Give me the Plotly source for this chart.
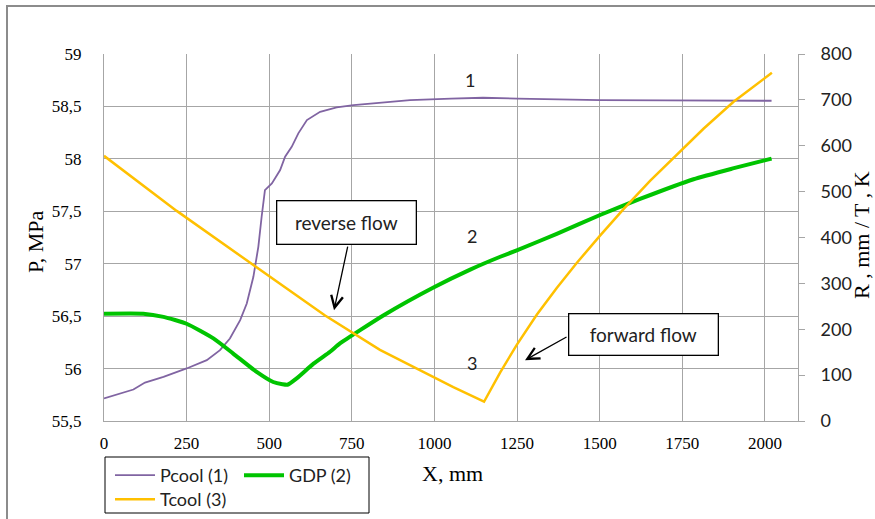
import plotly.graph_objects as go

# ---------------- data ----------------
x_pcool = [0, 89, 124, 180, 250, 311, 351, 381, 412, 432, 452, 467, 477, 487, 508, 533,
           548, 568, 588, 614, 654, 704, 755, 825, 926, 1050, 1147, 1250, 1400, 1501,
           1700, 1900, 2020]
p_cool = [55.715, 55.80, 55.867, 55.921, 56.001, 56.080, 56.176, 56.287, 56.462, 56.621,
          56.875, 57.161, 57.448, 57.702, 57.766, 57.893, 58.02, 58.115, 58.243, 58.370,
          58.449, 58.491, 58.513, 58.535, 58.56, 58.575, 58.583, 58.575, 58.565, 58.561,
          58.557, 58.555, 58.554]

x_gdp = [0, 119, 180, 250, 331, 391, 462, 512, 540, 555, 583, 634, 684, 714, 845, 997,
         1108, 1199, 1249, 1370, 1501, 1622, 1784, 1900, 2020]
r_gdp = [234, 234, 227, 212, 180, 147, 107, 85, 80, 79, 93, 125, 151, 169, 230, 291,
         330, 358, 372, 408, 449, 484, 527, 550, 572]

x_tcool = [0, 220, 452, 669, 835, 957, 1057, 1150, 1199, 1249, 1310, 1370, 1431, 1501,
           1572, 1653, 1754, 1814, 1905, 2021]
t_cool = [578, 458, 340, 230, 155, 110, 74, 42, 106, 166, 232, 290, 345, 404, 462, 524,
          596, 637, 696, 759]

series_names = ["Pcool (1)", "GDP (2)", "Tcool (3)"]

x_tickvals = [0, 250, 500, 750, 1000, 1250, 1500, 1750, 2000]
left_tickvals = [55.5, 56, 56.5, 57, 57.5, 58, 58.5, 59]
left_ticktext = ["55,5", "56", "56,5", "57", "57,5", "58", "58,5", "59"]
right_tickvals = [0, 100, 200, 300, 400, 500, 600, 700, 800]

# ---------------- layout geometry ----------------
W, H = 875, 519
ML, MR, MT, MB = 104, 77, 54, 98
PW = W - ML - MR
PH = H - MT - MB


def px(xp):
    return (xp - ML) / PW


def py(yp):
    return (H - MB - yp) / PH


SERIF = "Liberation Serif"
SANS = "Lato"
GRID = "#a6a6a6"

fig = go.Figure()
fig.add_trace(go.Scatter(x=x_pcool, y=p_cool, name=series_names[0], mode="lines",
                         line=dict(color="#8064A2", width=1.8), yaxis="y", legend="legend"))
fig.add_trace(go.Scatter(x=x_gdp, y=r_gdp, name=series_names[1], mode="lines",
                         line=dict(color="#00C400", width=4, shape="spline", smoothing=0.5),
                         yaxis="y2", legend="legend"))
fig.add_trace(go.Scatter(x=x_tcool, y=t_cool, name=series_names[2], mode="lines",
                         line=dict(color="#FFC000", width=2.5), yaxis="y2", legend="legend2"))

annotations = [
    dict(text="P, MPa", x=px(35), y=py(242), xref="paper", yref="paper", textangle=-90,
         xanchor="center", yanchor="middle",
         showarrow=False, font=dict(family=SERIF, size=22, color="black")),
    dict(text="X, mm", x=px(452), y=py(473), xref="paper", yref="paper",
         xanchor="center", yanchor="middle",
         showarrow=False, font=dict(family=SERIF, size=22, color="black")),
    dict(text="R , mm / T , K", x=px(862), y=py(235), xref="paper", yref="paper", textangle=-90,
         xanchor="center", yanchor="middle",
         showarrow=False, font=dict(family=SERIF, size=22, color="black")),
    dict(text="1", x=1108, y=58.75, xref="x", yref="y", showarrow=False,
         font=dict(family=SANS, size=18, color="#222")),
    dict(text="2", x=1114, y=57.26, xref="x", yref="y", showarrow=False,
         font=dict(family=SANS, size=18, color="#222")),
    dict(text="3", x=1114, y=56.05, xref="x", yref="y", showarrow=False,
         font=dict(family=SANS, size=18, color="#222")),
    dict(text="reverse flow", x=735, y=57.389, xref="x", yref="y", showarrow=False,
         font=dict(family=SANS, size=19, color="#222"), bgcolor="white",
         bordercolor="black", borderwidth=1.3, borderpad=0, width=138, height=42),
    dict(text="", x=696, y=56.557, xref="x", yref="y", ax=14, ay=-65,
         showarrow=True, arrowhead=5, arrowsize=1.8, arrowwidth=1.3, arrowcolor="black"),
    dict(text="forward flow", x=1632, y=56.323, xref="x", yref="y", showarrow=False,
         font=dict(family=SANS, size=19, color="#222"), bgcolor="white",
         bordercolor="black", borderwidth=1.3, borderpad=0, width=148, height=40),
    dict(text="", x=1274, y=56.08, xref="x", yref="y", ax=43, ay=-24,
         showarrow=True, arrowhead=5, arrowsize=1.8, arrowwidth=1.3, arrowcolor="black"),
]

shapes = [
    # chart-area border (partially outside the picture)
    dict(type="rect", xref="paper", yref="paper", x0=px(7), x1=px(900), y0=py(560), y1=py(6),
         line=dict(color="#8c8c8c", width=2), fillcolor="rgba(0,0,0,0)", layer="below"),
    # legend box
    dict(type="rect", xref="paper", yref="paper", x0=px(105), x1=px(369), y0=py(513), y1=py(457),
         line=dict(color="black", width=1), fillcolor="rgba(0,0,0,0)"),
]

fig.update_layout(
    width=W, height=H,
    margin=dict(l=ML, r=MR, t=MT, b=MB, pad=0, autoexpand=False),
    paper_bgcolor="white", plot_bgcolor="white",
    showlegend=True,
    legend=dict(orientation="h", x=px(110), y=py(457), xanchor="left", yanchor="top",
                font=dict(family=SANS, size=18, color="#222"), bgcolor="rgba(0,0,0,0)",
                borderwidth=0, entrywidth=74, itemwidth=40),
    legend2=dict(orientation="h", x=px(110), y=py(481), xanchor="left", yanchor="top",
                 font=dict(family=SANS, size=18, color="#222"), bgcolor="rgba(0,0,0,0)",
                 borderwidth=0, itemwidth=40),
    xaxis=dict(range=[0, 2100], tickvals=x_tickvals, showgrid=True, gridcolor=GRID, gridwidth=1,
               showline=True, linecolor=GRID, linewidth=1, zeroline=False, ticks="",
               tickfont=dict(family=SERIF, size=17, color="black"), ticklabelstandoff=7),
    yaxis=dict(range=[55.5, 59], tickvals=left_tickvals, ticktext=left_ticktext,
               showgrid=True, gridcolor=GRID, gridwidth=1, showline=True, linecolor=GRID,
               zeroline=False, ticks="", tickfont=dict(family=SERIF, size=17, color="black"),
               ticklabelstandoff=18),
    yaxis2=dict(range=[0, 800], tickvals=right_tickvals, overlaying="y", side="right",
                showgrid=False, showline=True, linecolor=GRID, zeroline=False,
                ticks="outside", ticklen=6, tickcolor=GRID,
                tickfont=dict(family=SANS, size=18, color="#222"), ticklabelstandoff=12),
    annotations=annotations,
    shapes=shapes,
)

fig.write_html("out.html")
